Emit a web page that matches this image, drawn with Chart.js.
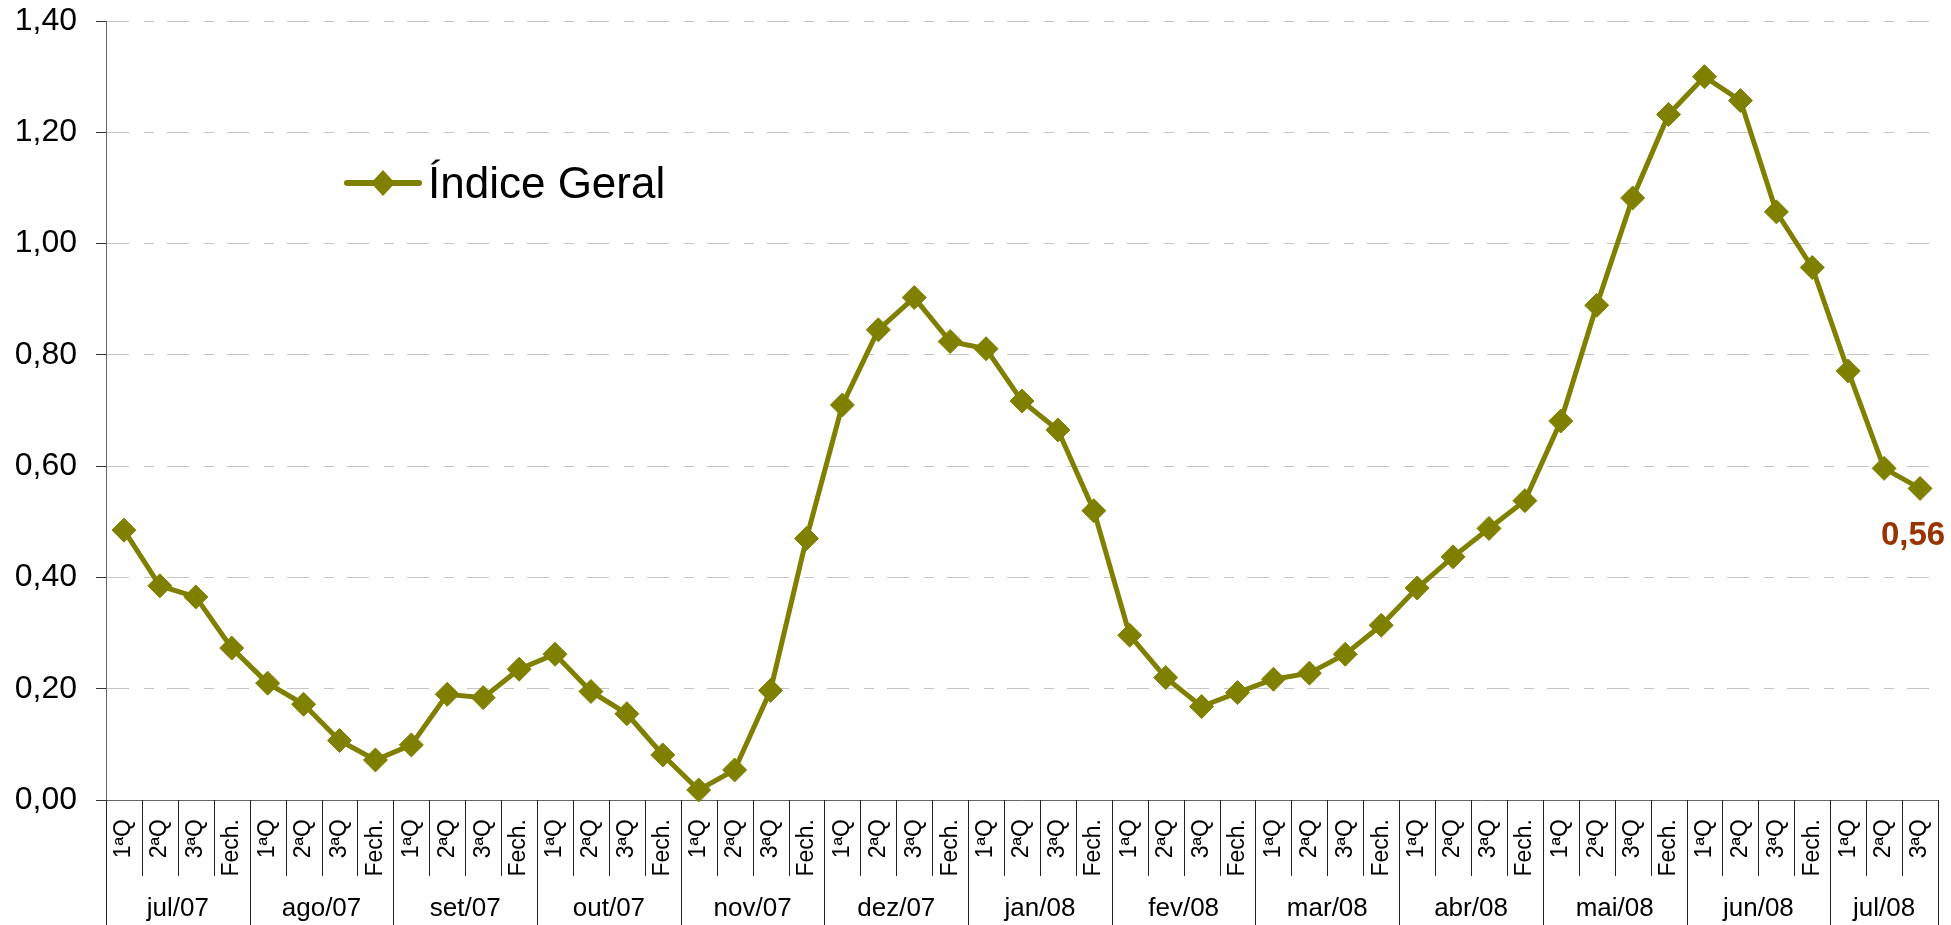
<!DOCTYPE html>
<html><head><meta charset="utf-8">
<script src="https://cdn.jsdelivr.net/npm/chart.js@4.4.1/dist/chart.umd.min.js"></script>
<style>html,body{margin:0;padding:0;background:#fff;overflow:hidden}canvas{display:block}</style>
</head><body>
<canvas id="c" width="1951" height="925"></canvas>
<script>
const months = ['jul/07','ago/07','set/07','out/07','nov/07','dez/07','jan/08','fev/08','mar/08','abr/08','mai/08','jun/08','jul/08'];
const periods = ['1ªQ','2ªQ','3ªQ','Fech.'];
const monthPeriodCounts = [4,4,4,4,4,4,4,4,4,4,4,4,3];
const seriesName = 'Índice Geral';
const indiceGeral = [
  0.485, 0.385, 0.365, 0.273,
  0.210, 0.172, 0.107, 0.072,
  0.099, 0.190, 0.184, 0.235,
  0.262, 0.195, 0.155, 0.081,
  0.018, 0.054, 0.197, 0.470,
  0.710, 0.845, 0.903, 0.824,
  0.811, 0.717, 0.665, 0.520,
  0.296, 0.220, 0.168, 0.193,
  0.217, 0.228, 0.262, 0.314,
  0.381, 0.437, 0.488, 0.538,
  0.681, 0.889, 1.082, 1.232,
  1.300, 1.257, 1.057, 0.957,
  0.771, 0.596, 0.560
];
const yMin = 0, yMax = 1.4, yStep = 0.2;

const categories = [];
months.forEach((m, i) => { for (let k = 0; k < monthPeriodCounts[i]; k++) categories.push(periods[k]); });

const FONT = "'Liberation Sans', Arial, sans-serif";
const OLIVE = '#808000';
const fmt = v => Number(v).toFixed(2).replace('.', ',');

const groupPlugin = {
  id: 'groups',
  afterDraw(chart) {
    const ctx = chart.ctx, xs = chart.scales.x;
    const top = xs.top, bottom = chart.height;
    ctx.save();
    ctx.strokeStyle = '#222';
    ctx.lineWidth = 1;
    const monthStarts = [];
    let acc = 0;
    months.forEach((m, i) => { monthStarts.push(acc); acc += monthPeriodCounts[i]; });
    monthStarts.push(acc);
    for (let k = 0; k <= categories.length; k++) {
      const x = Math.round(xs.getPixelForValue(k - 0.5)) + 0.5;
      const isMonth = monthStarts.includes(k);
      ctx.beginPath();
      ctx.moveTo(x, top);
      ctx.lineTo(x, isMonth ? bottom : top + 76);
      ctx.stroke();
    }
    ctx.fillStyle = '#000';
    ctx.font = '26px ' + FONT;
    ctx.textAlign = 'center';
    ctx.textBaseline = 'middle';
    months.forEach((m, i) => {
      const x0 = xs.getPixelForValue(monthStarts[i] - 0.5);
      const x1 = xs.getPixelForValue(monthStarts[i + 1] - 0.5);
      ctx.fillText(m, (x0 + x1) / 2, top + 109);
    });
    // legend
    const lx = 347, ly = 183;
    ctx.strokeStyle = OLIVE;
    ctx.lineWidth = 6;
    ctx.lineCap = 'round';
    ctx.beginPath(); ctx.moveTo(lx, ly); ctx.lineTo(lx + 72, ly); ctx.stroke();
    ctx.fillStyle = OLIVE;
    ctx.beginPath();
    ctx.moveTo(lx + 36 - 12, ly); ctx.lineTo(lx + 36, ly - 13); ctx.lineTo(lx + 36 + 12, ly); ctx.lineTo(lx + 36, ly + 13);
    ctx.closePath(); ctx.fill();
    ctx.fillStyle = '#000';
    ctx.font = '44px ' + FONT;
    ctx.textAlign = 'left';
    ctx.textBaseline = 'alphabetic';
    ctx.fillText(seriesName, 428, 198);
    // last value label
    const meta = chart.getDatasetMeta(0);
    const last = meta.data[meta.data.length - 1];
    ctx.fillStyle = '#993300';
    ctx.font = 'bold 33px ' + FONT;
    ctx.textAlign = 'center';
    ctx.textBaseline = 'middle';
    ctx.fillText(fmt(indiceGeral[indiceGeral.length - 1]), last.x - 7, last.y + 48);
    ctx.restore();
  }
};

new Chart(document.getElementById('c'), {
  type: 'line',
  data: {
    labels: categories,
    datasets: [{
      label: seriesName,
      data: indiceGeral,
      borderColor: OLIVE,
      backgroundColor: OLIVE,
      borderWidth: 5,
      tension: 0,
      pointStyle: 'rectRot',
      pointRadius: 12,
      pointHoverRadius: 12,
      pointBackgroundColor: OLIVE,
      pointBorderColor: OLIVE,
      pointBorderWidth: 1,
      clip: false
    }]
  },
  options: {
    responsive: false,
    animation: false,
    devicePixelRatio: 1,
    layout: { padding: { top: 21, right: 12, left: 0, bottom: 0 } },
    plugins: { legend: { display: false }, tooltip: { enabled: false } },
    scales: {
      x: {
        type: 'category',
        offset: true,
        grid: { display: false, drawTicks: false, tickLength: 0 },
        border: { display: true, color: '#666', width: 1 },
        ticks: {
          autoSkip: false, maxRotation: 90, minRotation: 90, padding: 19,
          color: '#000', font: { family: FONT, size: 23 }
        },
        afterFit(s) { s.height = 125; s.paddingLeft = 0; s.paddingRight = 0; }
      },
      y: {
        min: yMin, max: yMax,
        grid: {
          color: c => (c.tick && c.tick.value === 0) ? 'rgba(0,0,0,0)' : '#c4c4c4',
          lineWidth: 1,
          tickColor: '#333',
          tickLength: 10,
          drawTicks: true
        },
        border: { display: true, color: '#666', width: 1, dash: [22, 15, 10, 13] },
        ticks: {
          stepSize: yStep, padding: 19, color: '#000',
          font: { family: FONT, size: 32 },
          callback: v => fmt(v)
        },
        afterFit(s) { s.width = 106; s.paddingTop = 0; s.paddingBottom = 0; }
      }
    }
  },
  plugins: [groupPlugin]
});
</script>
</body></html>
